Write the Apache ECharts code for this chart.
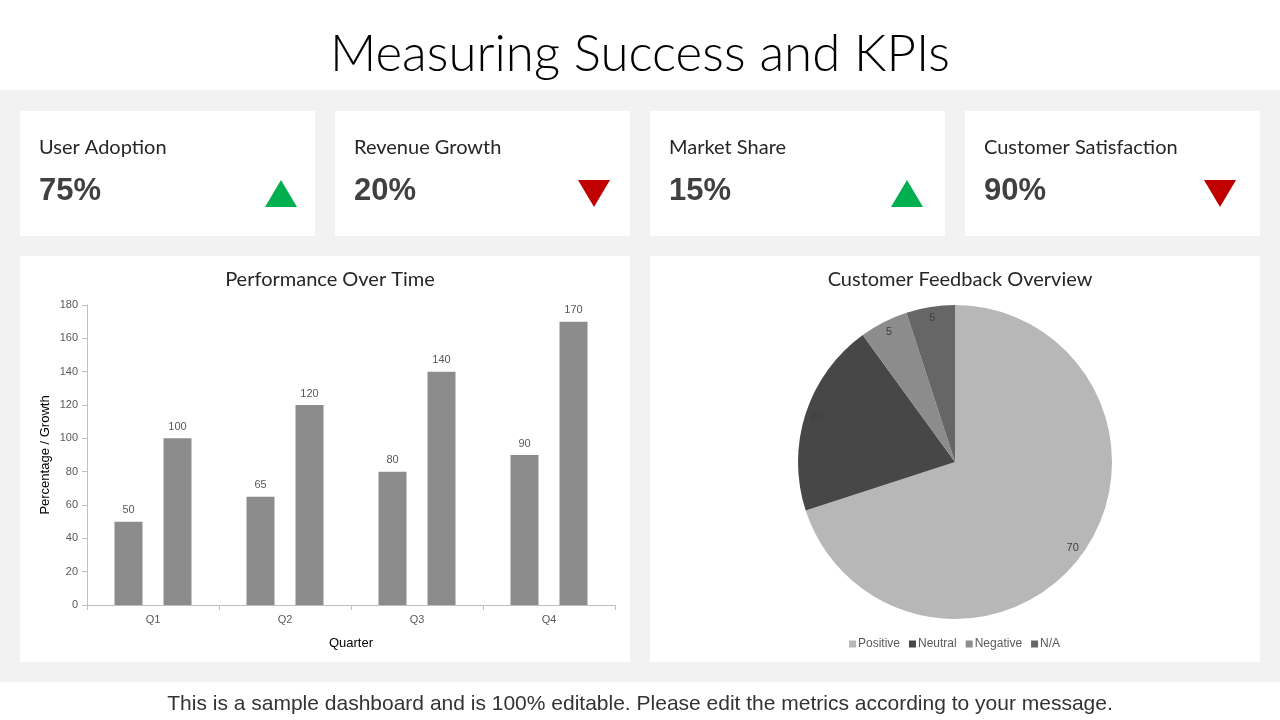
<!DOCTYPE html>
<html>
<head>
<meta charset="utf-8">
<script src="https://cdn.jsdelivr.net/npm/echarts@6/dist/echarts.min.js"></script>
<style>
  html, body { margin: 0; padding: 0; background: #fff; }
  #main { width: 1280px; height: 720px; }
</style>
</head>
<body>
<div id="main"></div>
<script type="text/javascript">
  // KPI cards
  var kpiNames = ['User Adoption', 'Revenue Growth', 'Market Share', 'Customer Satisfaction'];
  var kpiValues = ['75%', '20%', '15%', '90%'];
  var kpiTrend = ['up', 'down', 'up', 'down'];

  // bar chart
  var quarters = ['Q1', 'Q2', 'Q3', 'Q4'];
  var seriesA = [50, 65, 80, 90];
  var seriesB = [100, 120, 140, 170];

  // pie chart
  var feedbackNames = ['Positive', 'Neutral', 'Negative', 'N/A'];
  var feedbackValues = [70, 20, 5, 5];
  var feedbackColors = ['#b7b7b7', '#474747', '#8c8c8c', '#666666'];

  var myChart = echarts.init(document.getElementById('main'));

  var graphics = [];
  // gray panel behind cards
  graphics.push({ type: 'rect', shape: { x: 0, y: 90, width: 1280, height: 592 }, style: { fill: '#f2f2f2' }, z: -10 });
  // two big panels
  graphics.push({ type: 'rect', shape: { x: 20, y: 256, width: 610, height: 406 }, style: { fill: '#fff' }, z: -5 });
  graphics.push({ type: 'rect', shape: { x: 650, y: 256, width: 610, height: 406 }, style: { fill: '#fff' }, z: -5 });

  for (var i = 0; i < kpiNames.length; i++) {
    var x0 = 20 + i * 315;
    graphics.push({ type: 'rect', shape: { x: x0, y: 111, width: 295, height: 125 }, style: { fill: '#fff' }, z: -5 });
    graphics.push({ type: 'text', x: x0 + 19, y: 148, style: { text: kpiNames[i], fill: '#262626', font: '20px Lato, sans-serif', verticalAlign: 'middle' } });
    graphics.push({ type: 'text', x: x0 + 19, y: 191, style: { text: kpiValues[i], fill: '#404040', font: 'bold 31px Arial, "Liberation Sans", sans-serif', verticalAlign: 'middle' } });
    // arrow sits a little further left on each card
    var tx = x0 + 261 - 2 * i, pts;
    if (kpiTrend[i] == 'up') {
      pts = [[tx - 16, 207], [tx + 16, 207], [tx, 180]];
    } else {
      pts = [[tx - 16, 180], [tx + 16, 180], [tx, 207]];
    }
    graphics.push({ type: 'polygon', shape: { points: pts }, style: { fill: kpiTrend[i] == 'up' ? '#00b050' : '#c00000' } });
  }

  var axisGray = '#bfbfbf';

  myChart.setOption({
    animation: false,
    textStyle: { fontFamily: 'Arial, "Liberation Sans", sans-serif' },
    graphic: graphics,
    title: [
      { text: 'Measuring Success and KPIs', left: 'center', top: 24,
        textStyle: { fontSize: 51, fontWeight: 300, color: '#000', fontFamily: 'Lato, sans-serif' } },
      { text: 'Performance Over Time', left: 325, textAlign: 'center', top: 265,
        textStyle: { fontSize: 20, fontWeight: 'normal', color: '#262626', fontFamily: 'Lato, sans-serif' } },
      { text: 'Customer Feedback Overview', left: 955, textAlign: 'center', top: 265,
        textStyle: { fontSize: 20, fontWeight: 'normal', color: '#262626', fontFamily: 'Lato, sans-serif' } },
      { text: 'This is a sample dashboard and is 100% editable. Please edit the metrics according to your message.',
        left: 'center', top: 689,
        textStyle: { fontSize: 21, fontWeight: 'normal', color: '#333333', fontFamily: 'Arial, "Liberation Sans", sans-serif' } }
    ],
    legend: {
      data: feedbackNames,
      left: 844, top: 633,
      itemWidth: 7, itemHeight: 7, itemGap: 9,
      icon: 'rect',
      textStyle: { fontSize: 12, color: '#595959', padding: [0, 0, 0, -3] }
    },
    grid: { left: 87, right: 665, top: 305, bottom: 115 },
    xAxis: {
      type: 'category',
      data: quarters,
      name: 'Quarter',
      nameLocation: 'middle',
      nameGap: 32,
      nameTextStyle: { fontSize: 13, color: '#000' },
      axisLine: { lineStyle: { color: axisGray } },
      axisTick: { show: true, length: 5, lineStyle: { color: axisGray } },
      axisLabel: { fontSize: 11, color: '#595959', margin: 9 }
    },
    yAxis: {
      type: 'value',
      min: 0, max: 180, interval: 20,
      name: 'Percentage / Growth',
      nameLocation: 'middle',
      nameGap: 35,
      nameTextStyle: { fontSize: 13, color: '#000' },
      axisLine: { show: true, lineStyle: { color: axisGray } },
      axisTick: { show: true, length: 5, lineStyle: { color: axisGray } },
      axisLabel: { fontSize: 11, color: '#595959', margin: 9 },
      splitLine: { show: false }
    },
    series: [
      {
        name: 'Percentage', type: 'bar', data: seriesA,
        barWidth: 28, barGap: '75%',
        itemStyle: { color: '#8c8c8c' },
        label: { show: true, position: 'top', fontSize: 11, color: '#595959', distance: 6 }
      },
      {
        name: 'Growth', type: 'bar', data: seriesB,
        barWidth: 28,
        itemStyle: { color: '#8c8c8c' },
        label: { show: true, position: 'top', fontSize: 11, color: '#595959', distance: 6 }
      },
      {
        name: 'Feedback', type: 'pie',
        center: [955, 462], radius: [0, 157],
        startAngle: 90,
        label: { show: false },
        labelLine: { show: false },
        data: feedbackNames.map(function (n, k) {
          return { name: n, value: feedbackValues[k], itemStyle: { color: feedbackColors[k] } };
        })
      },
      {
        // transparent ring only to place value labels near the rim
        name: 'FeedbackLabels', type: 'pie',
        center: [955, 462], radius: [128, 157],
        startAngle: 90,
        silent: true,
        label: { show: true, position: 'inside', formatter: '{c}', fontSize: 11, color: '#404040' },
        labelLine: { show: false },
        itemStyle: { color: 'rgba(0,0,0,0)' },
        data: feedbackNames.map(function (n, k) {
          return { name: n, value: feedbackValues[k] };
        })
      }
    ]
  });
</script>
</body>
</html>
